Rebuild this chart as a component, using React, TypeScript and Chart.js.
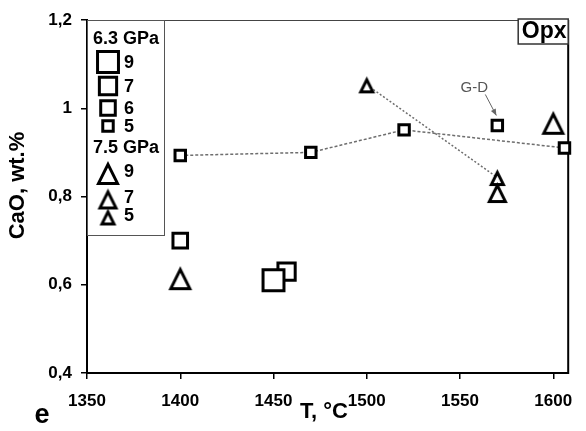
import { useEffect, useRef } from 'react';
import { Chart, registerables } from 'chart.js';

Chart.register(...registerables);

// CaO in orthopyroxene vs. run temperature
// 6.3 GPa runs, grouped by run duration
const P63_9 = [{ x: 1450, y: 0.61 }];
const P63_7 = [{ x: 1457, y: 0.63 }];
const P63_6 = [{ x: 1400, y: 0.70 }];
const P63_5 = [
  { x: 1400, y: 0.893 },
  { x: 1470, y: 0.9 },
  { x: 1520, y: 0.951 },
  { x: 1606, y: 0.91 },
];
// literature point (G-D)
const GD = [{ x: 1570, y: 0.961 }];

// 7.5 GPa runs, grouped by run duration
const P75_9 = [
  { x: 1400, y: 0.615 },
  { x: 1600, y: 0.967 },
];
const P75_7 = [{ x: 1570, y: 0.809 }];
const P75_5 = [
  { x: 1500, y: 1.053 },
  { x: 1570, y: 0.843 },
];

const PRESSURES = ['6.3 GPa', '7.5 GPa'];
const DURATIONS_63 = ['9', '7', '6', '5'];
const DURATIONS_75 = ['9', '7', '5'];

const X_MIN = 1350;
const X_MAX = 1608;
const X_STEP = 50;
const Y_MIN = 0.4;
const Y_MAX = 1.2;
const Y_STEP = 0.2;

const FONT = "'Liberation Sans', Arial, Helvetica, sans-serif";

// square marker radii (Chart.js 'rect' side = 1.414 * r)
const SQ_R = { 9: 14.8, 7: 12.2, 6: 10.3, 5: 7.4 } as const;
// triangle marker outer sizes in px
const TRI_S = { 9: 24, 7: 21, 5: 17 } as const;

function triangleMarker(outer: number): HTMLCanvasElement {
  const lw = 3;
  const size = outer + 6;
  const c = document.createElement('canvas');
  c.width = size;
  c.height = size;
  const g = c.getContext('2d')!;
  const side = outer - 5;
  const cx = size / 2;
  const cy = size / 2 + 0.9;
  const apexY = cy - side / 2;
  const baseY = cy + side / 2;
  g.beginPath();
  g.moveTo(cx, apexY);
  g.lineTo(cx + side / 2, baseY);
  g.lineTo(cx - side / 2, baseY);
  g.closePath();
  g.fillStyle = '#fff';
  g.fill();
  g.lineWidth = lw;
  g.lineJoin = 'miter';
  g.strokeStyle = '#000';
  g.stroke();
  return c;
}

function drawSquare(ctx: CanvasRenderingContext2D, x: number, y: number, r: number) {
  const h = Math.SQRT1_2 * r;
  ctx.save();
  ctx.fillStyle = '#fff';
  ctx.strokeStyle = '#000';
  ctx.lineWidth = 3;
  ctx.beginPath();
  ctx.rect(x - h, y - h, 2 * h, 2 * h);
  ctx.fill();
  ctx.stroke();
  ctx.restore();
}

export default function App() {
  const ref = useRef<HTMLCanvasElement>(null);

  useEffect(() => {
    document.body.style.margin = '0';
    const canvas = ref.current!;
    const tri = {
      9: triangleMarker(TRI_S[9]),
      7: triangleMarker(TRI_S[7]),
      5: triangleMarker(TRI_S[5]),
    };

    const squareSet = (data: { x: number; y: number }[], r: number, order: number) => ({
      data,
      pointStyle: 'rect' as const,
      pointRadius: r,
      pointHoverRadius: r,
      pointBorderColor: '#000',
      pointBackgroundColor: '#fff',
      pointBorderWidth: 3,
      pointHoverBorderWidth: 3,
      showLine: false,
      clip: false as const,
      order,
    });
    const triangleSet = (data: { x: number; y: number }[], img: HTMLCanvasElement, order: number) => ({
      data,
      pointStyle: img,
      pointRadius: img.width / 2,
      pointHoverRadius: img.width / 2,
      showLine: false,
      clip: false as const,
      order,
    });

    const decor = {
      id: 'decor',
      beforeDatasetsDraw(chart: Chart) {
        const { ctx, chartArea } = chart;
        const { left, right, top, bottom } = chartArea;
        ctx.save();
        ctx.strokeStyle = '#444';
        ctx.lineWidth = 1;
        ctx.beginPath();
        ctx.moveTo(left, top + 0.5);
        ctx.lineTo(right, top + 0.5);
        ctx.stroke();
        ctx.strokeStyle = '#000';
        ctx.lineWidth = 2;
        ctx.beginPath();
        ctx.moveTo(right, top);
        ctx.lineTo(right, bottom + 1);
        ctx.stroke();
        ctx.restore();
      },
      afterDraw(chart: Chart) {
        const { ctx, chartArea, scales } = chart;
        const { left, right, top, bottom } = chartArea;
        ctx.save();

        // legend box
        const lx = left;
        const ly = top;
        ctx.fillStyle = '#fff';
        ctx.fillRect(lx + 1, ly + 1, 76, 214);
        ctx.strokeStyle = '#555';
        ctx.lineWidth = 1;
        ctx.strokeRect(lx + 0.5, ly + 0.5, 77, 215);

        ctx.fillStyle = '#000';
        ctx.textBaseline = 'middle';
        ctx.textAlign = 'left';
        ctx.font = `bold 18px ${FONT}`;
        ctx.fillText(PRESSURES[0], lx + 6, ly + 19);
        const sqY = [42, 66, 88, 106];
        ctx.font = `bold 18px ${FONT}`;
        DURATIONS_63.forEach((d, i) => {
          drawSquare(ctx, lx + 21, ly + sqY[i], SQ_R[d as unknown as 9]);
          ctx.fillStyle = '#000';
          ctx.fillText(d, lx + 37, ly + sqY[i] + 1);
        });
        ctx.fillText(PRESSURES[1], lx + 6, ly + 128);
        const trY = [153, 179, 197];
        DURATIONS_75.forEach((d, i) => {
          const img = tri[d as unknown as 9];
          ctx.drawImage(img, lx + 21 - img.width / 2, ly + trY[i] - img.height / 2);
          ctx.fillStyle = '#000';
          ctx.fillText(d, lx + 37, ly + trY[i] - 1);
        });

        // phase label
        ctx.fillStyle = '#fff';
        ctx.fillRect(right - 50, top - 1, 50, 25);
        ctx.strokeStyle = '#333';
        ctx.lineWidth = 1.5;
        ctx.strokeRect(right - 50, top - 1, 50, 25);
        ctx.fillStyle = '#000';
        ctx.textAlign = 'center';
        ctx.font = `bold 23px ${FONT}`;
        ctx.fillText('Opx', right - 24, top + 12);

        // G-D annotation with arrow
        const px = scales.x.getPixelForValue(GD[0].x);
        const py = scales.y.getPixelForValue(GD[0].y);
        ctx.fillStyle = '#555';
        ctx.font = `15px ${FONT}`;
        ctx.fillText('G-D', px - 23, py - 38);
        const ax0 = px - 12, ay0 = py - 31, ax1 = px - 1, ay1 = py - 10;
        ctx.strokeStyle = '#666';
        ctx.lineWidth = 1;
        ctx.beginPath();
        ctx.moveTo(ax0, ay0);
        ctx.lineTo(ax1, ay1);
        ctx.stroke();
        const ang = Math.atan2(ay1 - ay0, ax1 - ax0);
        ctx.fillStyle = '#666';
        ctx.beginPath();
        ctx.moveTo(ax1, ay1);
        ctx.lineTo(ax1 - 7 * Math.cos(ang - 0.4), ay1 - 7 * Math.sin(ang - 0.4));
        ctx.lineTo(ax1 - 7 * Math.cos(ang + 0.4), ay1 - 7 * Math.sin(ang + 0.4));
        ctx.closePath();
        ctx.fill();

        // axis titles and panel letter
        ctx.fillStyle = '#000';
        ctx.font = `bold 22px ${FONT}`;
        ctx.textAlign = 'center';
        ctx.fillText('T, °C', 324, bottom + 39);
        ctx.save();
        ctx.translate(18, (top + bottom) / 2 - 11);
        ctx.rotate(-Math.PI / 2);
        ctx.font = `bold 22px ${FONT}`;
        ctx.fillText('CaO, wt.%', 0, 0);
        ctx.restore();
        ctx.font = `bold 27px ${FONT}`;
        ctx.fillText('e', 42, bottom + 43);

        ctx.restore();
      },
    };

    const chart = new Chart(canvas, {
      type: 'scatter',
      data: {
        datasets: [
          squareSet(P63_9, SQ_R[9], 1),
          squareSet(P63_7, SQ_R[7], 2),
          squareSet(P63_6, SQ_R[6], 3),
          {
            ...squareSet(P63_5, SQ_R[5], 4),
            showLine: true,
            borderColor: '#6e6e6e',
            borderWidth: 1.5,
            borderDash: [3, 2],
          },
          squareSet(GD, SQ_R[5], 5),
          triangleSet(P75_9, tri[9], 6),
          triangleSet(P75_7, tri[7], 7),
          {
            ...triangleSet(P75_5, tri[5], 8),
            showLine: true,
            borderColor: '#6e6e6e',
            borderWidth: 1.5,
            borderDash: [2, 2],
          },
        ],
      },
      options: {
        responsive: false,
        animation: false,
        events: [],
        layout: { padding: { top: 20, right: 8, left: 0, bottom: 0 } },
        plugins: {
          legend: { display: false },
          tooltip: { enabled: false },
        },
        scales: {
          x: {
            type: 'linear',
            min: X_MIN,
            max: X_MAX,
            ticks: {
              stepSize: X_STEP,
              includeBounds: false,
              color: '#000',
              padding: 12,
              font: { family: FONT, size: 17, weight: 'bold' },
              maxRotation: 0,
              callback: (v: any) => String(Math.round(Number(v))),
            },
            grid: {
              drawOnChartArea: false,
              drawTicks: true,
              tickLength: 6,
              color: '#000',
              lineWidth: 1.5,
            },
            border: { color: '#000', width: 2 },
            afterFit: (s: any) => {
              s.height = 58;
            },
          },
          y: {
            type: 'linear',
            min: Y_MIN,
            max: Y_MAX,
            ticks: {
              stepSize: Y_STEP,
              color: '#000',
              padding: 9,
              font: { family: FONT, size: 17, weight: 'bold' },
              callback: (v: any) => String(Math.round(Number(v) * 10) / 10).replace('.', ','),
            },
            grid: {
              drawOnChartArea: false,
              drawTicks: true,
              tickLength: 6,
              color: '#000',
              lineWidth: 1.5,
            },
            border: { color: '#000', width: 2 },
            afterFit: (s: any) => {
              s.width = 87;
            },
          },
        },
      },
      plugins: [decor],
    } as any);

    return () => chart.destroy();
  }, []);

  return (
    <div style={{ width: 586, height: 431 }}>
      <canvas ref={ref} width={586} height={431} style={{ display: 'block', width: 586, height: 431 }} />
    </div>
  );
}
